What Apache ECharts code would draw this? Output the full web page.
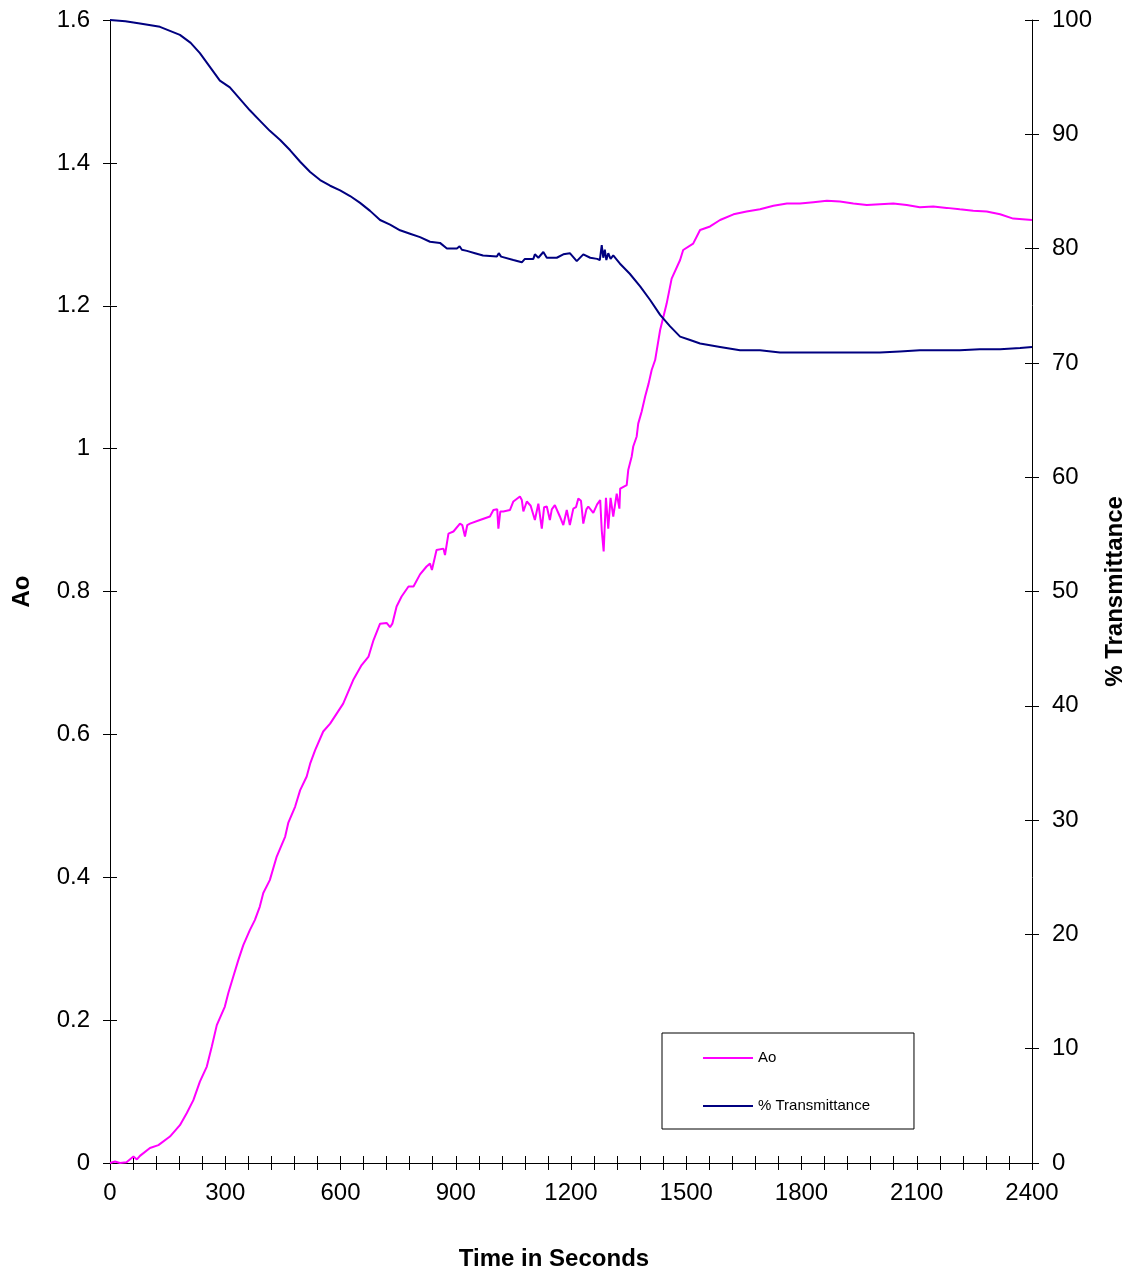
<!DOCTYPE html>
<html>
<head>
<meta charset="utf-8">
<script src="https://cdn.jsdelivr.net/npm/echarts@6/dist/echarts.min.js"></script>
<style>
  html, body { margin: 0; padding: 0; background: #fff; }
  #main { width: 1130px; height: 1272px; }
</style>
</head>
<body>
<div id="main"></div>
<script>
// Ao (left axis) - time in seconds and value
var aoTime = [0, 13, 26, 43, 61, 70, 78, 104, 126, 156, 182, 200, 217, 234, 252, 265, 278, 299, 308, 321,
  334, 347, 364, 377, 390, 399, 416, 434, 456, 464, 482, 495, 512, 521, 534, 555, 573, 590, 607, 633,
  655, 673, 686, 703, 720, 729, 735, 746, 759, 777, 790, 807, 824, 833, 838, 850, 868, 872, 881, 894,
  911, 917, 924, 930, 937, 963, 989, 998, 1008, 1011, 1016, 1024, 1041, 1050, 1067, 1072, 1076, 1085, 1095, 1106,
  1115, 1124, 1130, 1137, 1145, 1150, 1158, 1171, 1180, 1189, 1197, 1206, 1213, 1219, 1226, 1232, 1240, 1245, 1258, 1268,
  1276, 1280, 1285, 1291, 1297, 1303, 1310, 1319, 1326, 1328, 1345, 1349, 1358, 1362, 1371, 1375, 1384, 1393, 1402, 1410,
  1419, 1432, 1449, 1462, 1484, 1492, 1518, 1536, 1562, 1588, 1623, 1657, 1692, 1727, 1762, 1796, 1831, 1866, 1900, 1935,
  1970, 2004, 2039, 2074, 2108, 2143, 2178, 2212, 2247, 2282, 2317, 2351, 2400];
var aoValues = [0, 0.002, 0, 0.001, 0.009, 0.005, 0.010, 0.021, 0.025, 0.037, 0.053, 0.070, 0.088, 0.114, 0.135, 0.163, 0.193, 0.219, 0.238, 0.261,
  0.284, 0.305, 0.326, 0.340, 0.359, 0.378, 0.396, 0.429, 0.457, 0.476, 0.499, 0.522, 0.541, 0.559, 0.578, 0.604, 0.615, 0.629, 0.643, 0.676,
  0.697, 0.709, 0.732, 0.755, 0.756, 0.750, 0.755, 0.779, 0.793, 0.807, 0.807, 0.824, 0.835, 0.839, 0.830, 0.858, 0.860, 0.851, 0.881, 0.884,
  0.895, 0.893, 0.877, 0.893, 0.895, 0.900, 0.905, 0.914, 0.915, 0.888, 0.912, 0.912, 0.914, 0.926, 0.933, 0.928, 0.912, 0.926, 0.920, 0.900,
  0.923, 0.888, 0.918, 0.919, 0.900, 0.915, 0.921, 0.905, 0.893, 0.914, 0.893, 0.916, 0.918, 0.930, 0.927, 0.895, 0.915, 0.919, 0.910, 0.922,
  0.928, 0.886, 0.856, 0.931, 0.888, 0.931, 0.905, 0.937, 0.916, 0.944, 0.949, 0.970, 0.989, 1.003, 1.017, 1.035, 1.052, 1.073, 1.091, 1.110,
  1.124, 1.166, 1.203, 1.238, 1.264, 1.278, 1.287, 1.306, 1.311, 1.320, 1.328, 1.332, 1.335, 1.340, 1.343, 1.343, 1.345, 1.347, 1.346, 1.343,
  1.341, 1.342, 1.343, 1.341, 1.338, 1.339, 1.337, 1.335, 1.333, 1.332, 1.328, 1.322, 1.320];

// % Transmittance (right axis)
var trTime = [0, 40, 78, 130, 182, 210, 234, 260, 286, 312, 338, 364, 390, 416, 443, 469, 495, 521, 547, 573,
  599, 625, 651, 677, 703, 729, 755, 781, 807, 833, 859, 877, 903, 910, 916, 929, 950, 971, 1007, 1012,
  1018, 1050, 1072, 1080, 1102, 1106, 1115, 1128, 1137, 1163, 1180, 1197, 1215, 1232, 1250, 1268, 1275, 1280, 1284, 1288,
  1292, 1297, 1303, 1310, 1320, 1327, 1353, 1380, 1406, 1432, 1458, 1484, 1510, 1536, 1588, 1640, 1692, 1744, 1796, 1848,
  1900, 1952, 2004, 2056, 2108, 2160, 2212, 2264, 2317, 2369, 2400];
var trValues = [100, 99.9, 99.7, 99.4, 98.7, 98.0, 97.1, 95.9, 94.7, 94.1, 93.1, 92.1, 91.2, 90.3, 89.5, 88.6, 87.6, 86.7, 86.0, 85.5,
  85.1, 84.6, 84.0, 83.3, 82.5, 82.1, 81.6, 81.3, 81.0, 80.6, 80.5, 80.0, 80.0, 80.2, 79.9, 79.8, 79.6, 79.4, 79.3, 79.6,
  79.3, 79.0, 78.8, 79.1, 79.1, 79.5, 79.2, 79.7, 79.2, 79.2, 79.5, 79.6, 78.9, 79.5, 79.2, 79.1, 79.0, 80.3, 79.2, 79.9,
  79.0, 79.6, 79.1, 79.4, 79.0, 78.7, 77.8, 76.7, 75.5, 74.2, 73.2, 72.3, 72.0, 71.7, 71.4, 71.1, 71.1, 70.9, 70.9, 70.9,
  70.9, 70.9, 70.9, 71.0, 71.1, 71.1, 71.1, 71.2, 71.2, 71.3, 71.4];

var timeTicks = [0, 300, 600, 900, 1200, 1500, 1800, 2100, 2400];

function zip(xs, ys) {
  return xs.map(function (x, i) { return [x, ys[i]]; });
}

var font = 'Liberation Sans, Arial, sans-serif';
var chart = echarts.init(document.getElementById('main'));

var tick = { color: '#000', width: 1 };

chart.setOption({
  animation: false,
  backgroundColor: '#fff',
  textStyle: { fontFamily: font },
  grid: { left: 110, right: 98, top: 20, bottom: 109, outerBoundsMode: 'none', containLabel: false },
  legend: {
    orient: 'vertical',
    left: 662,
    top: 1033,
    padding: [16, 44, 14, 41],
    itemGap: 30,
    itemWidth: 50,
    itemHeight: 2,
    icon: 'rect',
    borderColor: '#000',
    borderWidth: 1,
    borderRadius: 0,
    backgroundColor: '#fff',
    textStyle: { fontSize: 15, lineHeight: 18, color: '#000', fontFamily: font },
    data: ['Ao', '% Transmittance']
  },
  xAxis: [
    {
      type: 'value', min: 0, max: 2400, interval: 60, position: 'bottom',
      name: 'Time in Seconds',
      nameLocation: 'middle',
      nameGap: 84,
      nameTextStyle: { fontSize: 24, fontWeight: 'bold', color: '#000', padding: [0, 34, 0, 0] },
      axisLine: { onZero: false, lineStyle: tick },
      axisTick: { length: 7, lineStyle: tick },
      axisLabel: {
        fontSize: 24, color: '#000', margin: 18,
        formatter: function (v) { return timeTicks.indexOf(v) >= 0 ? String(v) : ''; }
      },
      splitLine: { show: false }
    },
    {
      // inner half of the crossing ticks
      type: 'value', min: 0, max: 2400, interval: 60, position: 'bottom',
      axisLine: { show: false, onZero: false },
      axisTick: { inside: true, length: 7, lineStyle: tick },
      axisLabel: { show: false },
      splitLine: { show: false }
    }
  ],
  yAxis: [
    {
      type: 'value', position: 'left', min: 0, max: 1.6, interval: 0.2,
      name: 'Ao', nameLocation: 'middle', nameRotate: 90, nameGap: 76,
      nameTextStyle: { fontSize: 24, fontWeight: 'bold', color: '#000' },
      axisLine: { show: true, onZero: false, lineStyle: tick },
      axisTick: { show: true, length: 7, lineStyle: tick },
      axisLabel: { fontSize: 24, color: '#000', margin: 20 },
      splitLine: { show: false }
    },
    {
      type: 'value', position: 'right', min: 0, max: 100, interval: 10,
      name: '% Transmittance', nameLocation: 'middle', nameRotate: 90, nameGap: 70,
      nameTextStyle: { fontSize: 24, fontWeight: 'bold', color: '#000' },
      axisLine: { show: true, onZero: false, lineStyle: tick },
      axisTick: { show: true, length: 7, lineStyle: tick },
      axisLabel: { fontSize: 24, color: '#000', margin: 20 },
      splitLine: { show: false }
    },
    {
      type: 'value', position: 'left', min: 0, max: 1.6, interval: 0.2,
      axisLine: { show: false, onZero: false },
      axisTick: { show: true, inside: true, length: 7, lineStyle: tick },
      axisLabel: { show: false },
      splitLine: { show: false }
    },
    {
      type: 'value', position: 'right', min: 0, max: 100, interval: 10,
      axisLine: { show: false, onZero: false },
      axisTick: { show: true, inside: true, length: 7, lineStyle: tick },
      axisLabel: { show: false },
      splitLine: { show: false }
    }
  ],
  series: [
    {
      name: 'Ao',
      type: 'line',
      xAxisIndex: 0,
      yAxisIndex: 0,
      symbol: 'none',
      color: '#FF00FF',
      lineStyle: { width: 2, color: '#FF00FF' },
      data: zip(aoTime, aoValues)
    },
    {
      name: '% Transmittance',
      type: 'line',
      xAxisIndex: 0,
      yAxisIndex: 1,
      symbol: 'none',
      color: '#000080',
      lineStyle: { width: 2, color: '#000080' },
      data: zip(trTime, trValues)
    }
  ]
});
</script>
</body>
</html>
